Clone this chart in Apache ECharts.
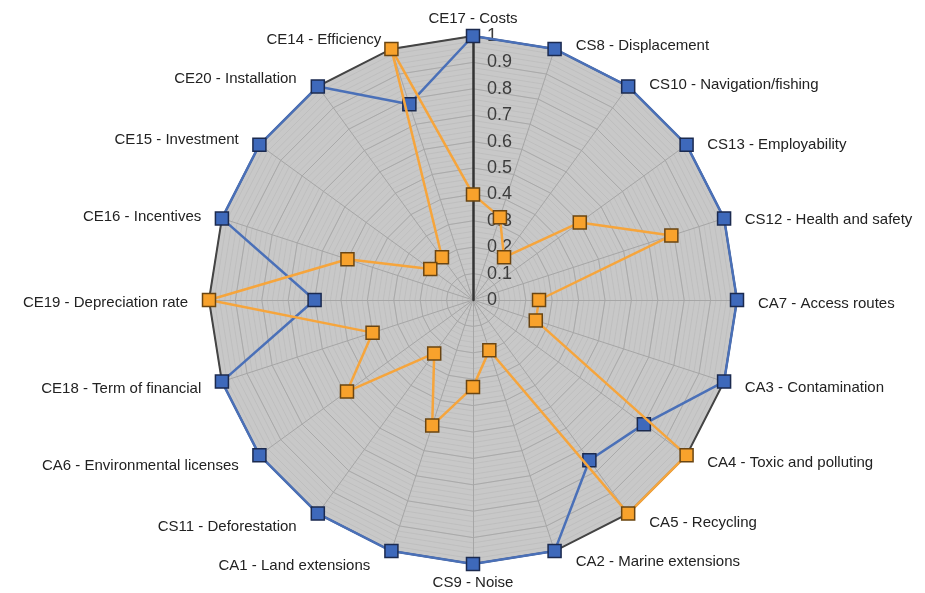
<!DOCTYPE html>
<html>
<head>
<meta charset="utf-8">
<script src="https://cdn.jsdelivr.net/npm/echarts@6/dist/echarts.min.js"></script>
<style>
html,body{margin:0;padding:0;background:#fff;}
#chart{width:925px;height:593px;}
</style>
</head>
<body>
<div id="chart"></div>
<script>
// Indicators in clockwise order starting at the top
const indicatorNames = [
  'CE17 - Costs', 'CS8 - Displacement', 'CS10 - Navigation/fishing', 'CS13 - Employability',
  'CS12 - Health and safety', 'CA7 - Access routes', 'CA3 - Contamination', 'CA4 - Toxic and polluting',
  'CA5 - Recycling', 'CA2 - Marine extensions', 'CS9 - Noise', 'CA1 - Land extensions',
  'CS11 - Deforestation', 'CA6 - Environmental licenses', 'CE18 - Term of financial',
  'CE19 - Depreciation rate', 'CE16 - Incentives', 'CE15 - Investment', 'CE20 - Installation',
  'CE14 - Efficiency'
];
const blueValues = [1, 1, 1, 1, 1, 1, 1, 0.8, 0.75, 1, 1, 1, 1, 1, 1, 0.6, 1, 1, 1, 0.78];
const orangeValues = [0.4, 0.33, 0.2, 0.5, 0.79, 0.25, 0.25, 1, 1, 0.2, 0.33, 0.5, 0.25, 0.59, 0.4, 1, 0.5, 0.2, 0.2, 1];
const tickLabels = ['0', '0.1', '0.2', '0.3', '0.4', '0.5', '0.6', '0.7', '0.8', '0.9', '1'];

// ECharts lays radar indicators counter-clockwise; reorder so they read clockwise
const N = indicatorNames.length;
const order = indicatorNames.map((_, i) => (i === 0 ? 0 : N - i));
const pick = arr => order.map(i => arr[i]);

const CENTER = [473, 300];
const R = 264;
const FONT = 'Liberation Sans, Arial, sans-serif';
const NAME_SIZE = 15;

// label placement styles (computed from each indicator's angle)
const rich = {};
indicatorNames.forEach((n, i) => {
  const a = i * 2 * Math.PI / N;
  const s = Math.sin(a), c = Math.cos(a);
  let padding;
  if (i === 0) padding = [0, 0, 3, 0];
  else if (i === N / 2) padding = [4, 0, 0, 0];
  else if (s > 0) {
    const p = Math.round(21 - 7 * s);
    padding = [8, 0, 0, p];
  } else {
    const p = c > 0.9 ? 8 : Math.round(21 - 7 * Math.abs(s));
    const shift = -6 * c + 3;
    padding = shift > 0 ? [Math.round(2 * shift), p, 0, 0] : [0, p, Math.round(-2 * shift), 0];
  }
  rich['s' + i] = { fontSize: NAME_SIZE, fontFamily: FONT, color: '#222', padding };
});

const indicators = pick(indicatorNames).map(n => ({ name: n, min: 0, max: 1 }));
const plainIndicators = pick(indicatorNames).map(() => ({ name: '', min: 0, max: 1 }));

const chart = echarts.init(document.getElementById('chart'));
chart.setOption({
  animation: false,
  backgroundColor: '#ffffff',
  polar: { center: CENTER, radius: R },
  angleAxis: { show: false, min: 0, max: 360, startAngle: 90 },
  radiusAxis: {
    min: 0, max: 1, interval: 0.1, z: 3,
    axisLine: { show: true, lineStyle: { color: '#333', width: 2.5 } },
    axisTick: { show: false },
    splitLine: { show: false },
    axisLabel: {
      show: true, margin: -14, align: 'left',
      fontFamily: FONT, fontSize: 18, color: '#3c3c3c',
      formatter: v => tickLabels[Math.round(v * 10)]
    }
  },
  radar: [
    {
      center: CENTER, radius: R, startAngle: 90, shape: 'polygon', splitNumber: 50,
      indicator: indicators,
      nameGap: 7,
      axisName: {
        color: '#222', fontSize: NAME_SIZE, fontFamily: FONT,
        formatter: name => '{s' + indicatorNames.indexOf(name) + '|' + name + '}',
        rich
      },
      splitArea: { show: true, areaStyle: { color: ['#c8c8c8'] } },
      splitLine: { show: true, lineStyle: { color: '#bababa', width: 0.7 } },
      axisLine: { show: true, lineStyle: { color: '#a6a6a6', width: 1 } }
    },
    {
      center: CENTER, radius: R, startAngle: 90, shape: 'polygon', splitNumber: 10,
      indicator: plainIndicators,
      axisName: { show: false },
      splitArea: { show: false },
      splitLine: { show: true, lineStyle: { color: '#aaaaaa', width: 1 } },
      axisLine: { show: false }
    },
    {
      center: CENTER, radius: R, startAngle: 90, shape: 'polygon', splitNumber: 1,
      indicator: plainIndicators,
      axisName: { show: false },
      splitArea: { show: false },
      splitLine: { show: true, lineStyle: { color: '#444', width: 2 } },
      axisLine: { show: false }
    }
  ],
  series: [
    {
      type: 'radar', radarIndex: 0, z: 4,
      symbol: 'rect', symbolSize: 13,
      data: [{
        name: 'Series 1', value: pick(blueValues),
        lineStyle: { color: '#4a70b8', width: 2.5 },
        itemStyle: { color: '#3e69bb', borderColor: '#1b2a4f', borderWidth: 1.5 }
      }]
    },
    {
      type: 'radar', radarIndex: 0, z: 5,
      symbol: 'rect', symbolSize: 13,
      data: [{
        name: 'Series 2', value: pick(orangeValues),
        lineStyle: { color: '#f6a53c', width: 2.5 },
        itemStyle: { color: '#f8a22c', borderColor: '#6a4512', borderWidth: 1.5 }
      }]
    }
  ]
});
</script>
</body>
</html>
